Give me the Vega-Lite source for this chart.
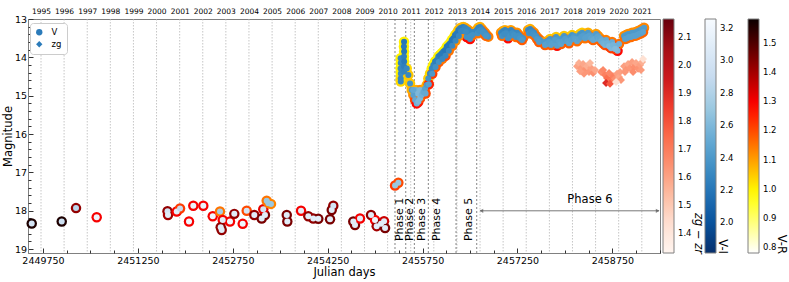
{
  "$schema": "https://vega.github.io/schema/vega-lite/v6.json",
  "width": 632,
  "height": 234,
  "autosize": {"type": "none"},
  "padding": {"left": 28, "top": 19, "right": 129, "bottom": 29},
  "config": {
    "font": "DejaVu Sans",
    "view": {"stroke": "#808080", "strokeWidth": 1},
    "axis": {"grid": false, "domainColor": "#808080", "tickColor": "#333333", "labelColor": "#000000", "titleColor": "#000000", "labelFont": "DejaVu Sans", "titleFont": "DejaVu Sans", "titleFontWeight": "normal"},
    "legend": {"labelFont": "DejaVu Sans", "titleFont": "DejaVu Sans", "labelColor": "#000000", "titleColor": "#000000"}
  },
  "datasets": {
    "years": [
      {"jd": 2449718.5, "year": 1995}, {"jd": 2450083.5, "year": 1996}, {"jd": 2450449.5, "year": 1997}, {"jd": 2450814.5, "year": 1998},
      {"jd": 2451179.5, "year": 1999}, {"jd": 2451544.5, "year": 2000}, {"jd": 2451910.5, "year": 2001}, {"jd": 2452275.5, "year": 2002},
      {"jd": 2452640.5, "year": 2003}, {"jd": 2453005.5, "year": 2004}, {"jd": 2453371.5, "year": 2005}, {"jd": 2453736.5, "year": 2006},
      {"jd": 2454101.5, "year": 2007}, {"jd": 2454466.5, "year": 2008}, {"jd": 2454832.5, "year": 2009}, {"jd": 2455197.5, "year": 2010},
      {"jd": 2455562.5, "year": 2011}, {"jd": 2455927.5, "year": 2012}, {"jd": 2456293.5, "year": 2013}, {"jd": 2456658.5, "year": 2014},
      {"jd": 2457023.5, "year": 2015}, {"jd": 2457388.5, "year": 2016}, {"jd": 2457754.5, "year": 2017}, {"jd": 2458119.5, "year": 2018},
      {"jd": 2458484.5, "year": 2019}, {"jd": 2458849.5, "year": 2020}, {"jd": 2459215.5, "year": 2021}
    ],
    "phaselines": [
      {"jd": 2455314}, {"jd": 2455484}, {"jd": 2455620}, {"jd": 2455841}, {"jd": 2456279}, {"jd": 2456606}
    ],
    "phaselabels": [
      {"jd": 2455394, "mag": 18.79, "label": "Phase 1"},
      {"jd": 2455552, "mag": 18.79, "label": "Phase 2"},
      {"jd": 2455737, "mag": 18.79, "label": "Phase 3"},
      {"jd": 2455978, "mag": 18.79, "label": "Phase 4"},
      {"jd": 2456484, "mag": 18.79, "label": "Phase 5"}
    ],
    "phase6": [{"jd": 2458397, "mag": 17.71, "label": "Phase 6"}],
    "arrow": [{"jd": 2456660, "jd2": 2459486, "mag": 18.0}],
    "arrowL": [{"jd": 2456680, "mag": 18.0}],
    "arrowR": [{"jd": 2459466, "mag": 18.0}],
    "V": [
      {"jd": 2449572, "mag": 18.33, "vi": 3.0, "vr": 1.56, "b": "V"},
      {"jd": 2450046, "mag": 18.28, "vi": 2.95, "vr": 1.56, "b": "V"},
      {"jd": 2450272, "mag": 17.93, "vi": 2.85, "vr": 1.42, "b": "V"},
      {"jd": 2450599, "mag": 18.17, "vi": 3.2, "vr": 1.3, "b": "V"},
      {"jd": 2451718, "mag": 18.01, "vi": 3.0, "vr": 1.42, "b": "V"},
      {"jd": 2451726, "mag": 18.11, "vi": 3.1, "vr": 1.4, "b": "V"},
      {"jd": 2451864, "mag": 18.02, "vi": 3.1, "vr": 1.3, "b": "V"},
      {"jd": 2451916, "mag": 17.94, "vi": 2.9, "vr": 1.22, "b": "V"},
      {"jd": 2452058, "mag": 18.28, "vi": 3.2, "vr": 1.3, "b": "V"},
      {"jd": 2452126, "mag": 17.87, "vi": 3.15, "vr": 1.3, "b": "V"},
      {"jd": 2452284, "mag": 17.87, "vi": 3.15, "vr": 1.3, "b": "V"},
      {"jd": 2452433, "mag": 18.14, "vi": 3.2, "vr": 1.3, "b": "V"},
      {"jd": 2452548, "mag": 18.02, "vi": 2.75, "vr": 1.15, "b": "V"},
      {"jd": 2452591, "mag": 18.24, "vi": 3.1, "vr": 1.3, "b": "V"},
      {"jd": 2452559, "mag": 18.43, "vi": 3.1, "vr": 1.42, "b": "V"},
      {"jd": 2452575, "mag": 18.5, "vi": 3.1, "vr": 1.42, "b": "V"},
      {"jd": 2452706, "mag": 18.28, "vi": 3.2, "vr": 1.3, "b": "V"},
      {"jd": 2452774, "mag": 18.08, "vi": 3.1, "vr": 1.42, "b": "V"},
      {"jd": 2452907, "mag": 18.34, "vi": 3.2, "vr": 1.3, "b": "V"},
      {"jd": 2452970, "mag": 18.0, "vi": 3.0, "vr": 1.2, "b": "V"},
      {"jd": 2453090, "mag": 18.11, "vi": 3.1, "vr": 1.42, "b": "V"},
      {"jd": 2453207, "mag": 18.2, "vi": 3.1, "vr": 1.45, "b": "V"},
      {"jd": 2453259, "mag": 18.11, "vi": 3.1, "vr": 1.45, "b": "V"},
      {"jd": 2453232, "mag": 17.96, "vi": 3.0, "vr": 1.32, "b": "V"},
      {"jd": 2453286, "mag": 17.74, "vi": 2.7, "vr": 1.15, "b": "V"},
      {"jd": 2453312, "mag": 17.8, "vi": 2.7, "vr": 1.15, "b": "V"},
      {"jd": 2453354, "mag": 17.82, "vi": 2.7, "vr": 1.13, "b": "V"},
      {"jd": 2453603, "mag": 18.11, "vi": 3.1, "vr": 1.45, "b": "V"},
      {"jd": 2453612, "mag": 18.28, "vi": 3.1, "vr": 1.45, "b": "V"},
      {"jd": 2453829, "mag": 18.0, "vi": 3.1, "vr": 1.3, "b": "V"},
      {"jd": 2453944, "mag": 18.14, "vi": 3.1, "vr": 1.42, "b": "V"},
      {"jd": 2454023, "mag": 18.2, "vi": 3.1, "vr": 1.42, "b": "V"},
      {"jd": 2454102, "mag": 18.21, "vi": 3.1, "vr": 1.45, "b": "V"},
      {"jd": 2454287, "mag": 18.22, "vi": 3.1, "vr": 1.45, "b": "V"},
      {"jd": 2454314, "mag": 17.98, "vi": 3.1, "vr": 1.45, "b": "V"},
      {"jd": 2454339, "mag": 17.87, "vi": 3.0, "vr": 1.42, "b": "V"},
      {"jd": 2454655, "mag": 18.28, "vi": 3.1, "vr": 1.45, "b": "V"},
      {"jd": 2454682, "mag": 18.37, "vi": 3.1, "vr": 1.45, "b": "V"},
      {"jd": 2454761, "mag": 18.2, "vi": 3.1, "vr": 1.3, "b": "V"},
      {"jd": 2454935, "mag": 18.11, "vi": 3.1, "vr": 1.42, "b": "V"},
      {"jd": 2454998, "mag": 18.24, "vi": 3.2, "vr": 1.3, "b": "V"},
      {"jd": 2455025, "mag": 18.4, "vi": 3.1, "vr": 1.4, "b": "V"},
      {"jd": 2455093, "mag": 18.34, "vi": 3.1, "vr": 1.45, "b": "V"},
      {"jd": 2455141, "mag": 18.27, "vi": 3.1, "vr": 1.35, "b": "V"},
      {"jd": 2455157, "mag": 18.45, "vi": 3.1, "vr": 1.45, "b": "V"},
      {"jd": 2455315, "mag": 17.34, "vi": 2.7, "vr": 1.22, "b": "V"},
      {"jd": 2455367, "mag": 17.27, "vi": 2.7, "vr": 1.2, "b": "V"},
      {"jd": 2455403, "mag": 14.02, "vi": 2.3, "vr": 1.0, "b": "V"},
      {"jd": 2455405, "mag": 14.15, "vi": 2.28, "vr": 1.0, "b": "V"},
      {"jd": 2455402, "mag": 14.29, "vi": 2.3, "vr": 1.0, "b": "V"},
      {"jd": 2455406, "mag": 14.42, "vi": 2.32, "vr": 1.0, "b": "V"},
      {"jd": 2455404, "mag": 14.55, "vi": 2.3, "vr": 1.02, "b": "V"},
      {"jd": 2455405, "mag": 14.63, "vi": 2.3, "vr": 1.03, "b": "V"},
      {"jd": 2455425, "mag": 14.1, "vi": 2.3, "vr": 1.0, "b": "V"},
      {"jd": 2455428, "mag": 14.35, "vi": 2.3, "vr": 1.0, "b": "V"},
      {"jd": 2455457, "mag": 13.59, "vi": 2.2, "vr": 1.0, "b": "V"},
      {"jd": 2455455, "mag": 13.72, "vi": 2.22, "vr": 1.0, "b": "V"},
      {"jd": 2455458, "mag": 13.85, "vi": 2.2, "vr": 1.0, "b": "V"},
      {"jd": 2455456, "mag": 13.98, "vi": 2.25, "vr": 1.0, "b": "V"},
      {"jd": 2455459, "mag": 14.11, "vi": 2.22, "vr": 1.0, "b": "V"},
      {"jd": 2455457, "mag": 14.24, "vi": 2.25, "vr": 1.02, "b": "V"},
      {"jd": 2455458, "mag": 14.37, "vi": 2.28, "vr": 1.03, "b": "V"},
      {"jd": 2455500, "mag": 14.29, "vi": 2.3, "vr": 1.03, "b": "V"},
      {"jd": 2455525, "mag": 14.46, "vi": 2.3, "vr": 1.05, "b": "V"},
      {"jd": 2455552, "mag": 14.68, "vi": 2.35, "vr": 1.05, "b": "V"},
      {"jd": 2455579, "mag": 14.85, "vi": 2.4, "vr": 1.08, "b": "V"},
      {"jd": 2455604, "mag": 14.98, "vi": 2.45, "vr": 1.12, "b": "V"},
      {"jd": 2455631, "mag": 15.11, "vi": 2.5, "vr": 1.2, "b": "V"},
      {"jd": 2455658, "mag": 15.2, "vi": 2.55, "vr": 1.28, "b": "V"},
      {"jd": 2455683, "mag": 15.16, "vi": 2.6, "vr": 1.26, "b": "V"},
      {"jd": 2455710, "mag": 15.07, "vi": 2.6, "vr": 1.2, "b": "V"},
      {"jd": 2455646, "mag": 14.85, "vi": 2.55, "vr": 1.08, "b": "V"},
      {"jd": 2455710, "mag": 14.85, "vi": 2.6, "vr": 1.12, "b": "V"},
      {"jd": 2455600, "mag": 14.85, "vi": 2.5, "vr": 1.08, "b": "V"},
      {"jd": 2455680, "mag": 14.95, "vi": 2.6, "vr": 1.15, "b": "V"},
      {"jd": 2455737, "mag": 14.98, "vi": 2.55, "vr": 1.15, "b": "V"},
      {"jd": 2455762, "mag": 14.9, "vi": 2.5, "vr": 1.12, "b": "V"},
      {"jd": 2455789, "mag": 14.81, "vi": 2.45, "vr": 1.1, "b": "V"},
      {"jd": 2455816, "mag": 14.72, "vi": 2.4, "vr": 1.08, "b": "V"},
      {"jd": 2455841, "mag": 14.55, "vi": 2.35, "vr": 1.05, "b": "V"},
      {"jd": 2455868, "mag": 14.42, "vi": 2.3, "vr": 1.03, "b": "V"},
      {"jd": 2455895, "mag": 14.29, "vi": 2.3, "vr": 1.0, "b": "V"},
      {"jd": 2455920, "mag": 14.2, "vi": 2.28, "vr": 1.0, "b": "V"},
      {"jd": 2455947, "mag": 14.11, "vi": 2.25, "vr": 1.0, "b": "V"},
      {"jd": 2455974, "mag": 14.07, "vi": 2.25, "vr": 1.0, "b": "V"},
      {"jd": 2455999, "mag": 13.98, "vi": 2.25, "vr": 1.0, "b": "V"},
      {"jd": 2456026, "mag": 13.94, "vi": 2.22, "vr": 1.0, "b": "V"},
      {"jd": 2456053, "mag": 13.89, "vi": 2.22, "vr": 1.0, "b": "V"},
      {"jd": 2456078, "mag": 13.85, "vi": 2.22, "vr": 1.0, "b": "V"},
      {"jd": 2456105, "mag": 13.81, "vi": 2.2, "vr": 1.0, "b": "V"},
      {"jd": 2456132, "mag": 13.72, "vi": 2.2, "vr": 1.0, "b": "V"},
      {"jd": 2456157, "mag": 13.68, "vi": 2.2, "vr": 1.0, "b": "V"},
      {"jd": 2456184, "mag": 13.63, "vi": 2.2, "vr": 1.0, "b": "V"},
      {"jd": 2456211, "mag": 13.55, "vi": 2.2, "vr": 1.0, "b": "V"},
      {"jd": 2456236, "mag": 13.5, "vi": 2.2, "vr": 1.0, "b": "V"},
      {"jd": 2456263, "mag": 13.42, "vi": 2.2, "vr": 1.02, "b": "V"},
      {"jd": 2456290, "mag": 13.37, "vi": 2.22, "vr": 1.03, "b": "V"},
      {"jd": 2456315, "mag": 13.29, "vi": 2.22, "vr": 1.05, "b": "V"},
      {"jd": 2456342, "mag": 13.24, "vi": 2.25, "vr": 1.06, "b": "V"},
      {"jd": 2456369, "mag": 13.22, "vi": 2.25, "vr": 1.07, "b": "V"},
      {"jd": 2456394, "mag": 13.21, "vi": 2.25, "vr": 1.07, "b": "V"},
      {"jd": 2456421, "mag": 13.23, "vi": 2.28, "vr": 1.08, "b": "V"},
      {"jd": 2456448, "mag": 13.26, "vi": 2.28, "vr": 1.1, "b": "V"},
      {"jd": 2456473, "mag": 13.29, "vi": 2.3, "vr": 1.1, "b": "V"},
      {"jd": 2456500, "mag": 13.33, "vi": 2.3, "vr": 1.12, "b": "V"},
      {"jd": 2456527, "mag": 13.36, "vi": 2.3, "vr": 1.12, "b": "V"},
      {"jd": 2456552, "mag": 13.34, "vi": 2.3, "vr": 1.12, "b": "V"},
      {"jd": 2456448, "mag": 13.47, "vi": 2.35, "vr": 1.28, "b": "V"},
      {"jd": 2456500, "mag": 13.52, "vi": 2.35, "vr": 1.28, "b": "V"},
      {"jd": 2456358, "mag": 13.32, "vi": 2.3, "vr": 1.12, "b": "V"},
      {"jd": 2456385, "mag": 13.3, "vi": 2.3, "vr": 1.12, "b": "V"},
      {"jd": 2456410, "mag": 13.31, "vi": 2.3, "vr": 1.14, "b": "V"},
      {"jd": 2456437, "mag": 13.34, "vi": 2.32, "vr": 1.15, "b": "V"},
      {"jd": 2456516, "mag": 13.44, "vi": 2.35, "vr": 1.16, "b": "V"},
      {"jd": 2456541, "mag": 13.42, "vi": 2.35, "vr": 1.16, "b": "V"},
      {"jd": 2455797, "mag": 14.94, "vi": 2.5, "vr": 1.2, "b": "V"},
      {"jd": 2455849, "mag": 14.7, "vi": 2.45, "vr": 1.25, "b": "V"},
      {"jd": 2455903, "mag": 14.43, "vi": 2.4, "vr": 1.22, "b": "V"},
      {"jd": 2455955, "mag": 14.25, "vi": 2.35, "vr": 1.18, "b": "V"},
      {"jd": 2456007, "mag": 14.12, "vi": 2.35, "vr": 1.18, "b": "V"},
      {"jd": 2456061, "mag": 14.04, "vi": 2.3, "vr": 1.15, "b": "V"},
      {"jd": 2456113, "mag": 13.96, "vi": 2.3, "vr": 1.2, "b": "V"},
      {"jd": 2456165, "mag": 13.83, "vi": 2.3, "vr": 1.15, "b": "V"},
      {"jd": 2456219, "mag": 13.7, "vi": 2.3, "vr": 1.15, "b": "V"},
      {"jd": 2456271, "mag": 13.57, "vi": 2.3, "vr": 1.12, "b": "V"},
      {"jd": 2456323, "mag": 13.44, "vi": 2.3, "vr": 1.12, "b": "V"},
      {"jd": 2456605, "mag": 13.29, "vi": 2.3, "vr": 1.1, "b": "V"},
      {"jd": 2456631, "mag": 13.23, "vi": 2.28, "vr": 1.08, "b": "V"},
      {"jd": 2456658, "mag": 13.21, "vi": 2.28, "vr": 1.08, "b": "V"},
      {"jd": 2456685, "mag": 13.26, "vi": 2.3, "vr": 1.1, "b": "V"},
      {"jd": 2456710, "mag": 13.31, "vi": 2.3, "vr": 1.12, "b": "V"},
      {"jd": 2456737, "mag": 13.36, "vi": 2.32, "vr": 1.12, "b": "V"},
      {"jd": 2456764, "mag": 13.42, "vi": 2.35, "vr": 1.13, "b": "V"},
      {"jd": 2456789, "mag": 13.46, "vi": 2.35, "vr": 1.14, "b": "V"},
      {"jd": 2456621, "mag": 13.37, "vi": 2.35, "vr": 1.15, "b": "V"},
      {"jd": 2456647, "mag": 13.31, "vi": 2.33, "vr": 1.15, "b": "V"},
      {"jd": 2456674, "mag": 13.29, "vi": 2.33, "vr": 1.15, "b": "V"},
      {"jd": 2456701, "mag": 13.34, "vi": 2.35, "vr": 1.16, "b": "V"},
      {"jd": 2456726, "mag": 13.39, "vi": 2.35, "vr": 1.16, "b": "V"},
      {"jd": 2456753, "mag": 13.44, "vi": 2.38, "vr": 1.17, "b": "V"},
      {"jd": 2456990, "mag": 13.36, "vi": 2.3, "vr": 1.12, "b": "V"},
      {"jd": 2457022, "mag": 13.31, "vi": 2.28, "vr": 1.1, "b": "V"},
      {"jd": 2457053, "mag": 13.29, "vi": 2.28, "vr": 1.08, "b": "V"},
      {"jd": 2457085, "mag": 13.31, "vi": 2.3, "vr": 1.1, "b": "V"},
      {"jd": 2457101, "mag": 13.5, "vi": 2.35, "vr": 1.28, "b": "V"},
      {"jd": 2457117, "mag": 13.36, "vi": 2.3, "vr": 1.12, "b": "V"},
      {"jd": 2457148, "mag": 13.29, "vi": 2.28, "vr": 1.1, "b": "V"},
      {"jd": 2457180, "mag": 13.34, "vi": 2.3, "vr": 1.12, "b": "V"},
      {"jd": 2457212, "mag": 13.39, "vi": 2.3, "vr": 1.12, "b": "V"},
      {"jd": 2457243, "mag": 13.36, "vi": 2.3, "vr": 1.12, "b": "V"},
      {"jd": 2457275, "mag": 13.42, "vi": 2.32, "vr": 1.14, "b": "V"},
      {"jd": 2457306, "mag": 13.47, "vi": 2.35, "vr": 1.15, "b": "V"},
      {"jd": 2457338, "mag": 13.5, "vi": 2.35, "vr": 1.15, "b": "V"},
      {"jd": 2457006, "mag": 13.44, "vi": 2.35, "vr": 1.16, "b": "V"},
      {"jd": 2457038, "mag": 13.39, "vi": 2.33, "vr": 1.15, "b": "V"},
      {"jd": 2457069, "mag": 13.37, "vi": 2.33, "vr": 1.15, "b": "V"},
      {"jd": 2457133, "mag": 13.44, "vi": 2.35, "vr": 1.16, "b": "V"},
      {"jd": 2457164, "mag": 13.37, "vi": 2.33, "vr": 1.15, "b": "V"},
      {"jd": 2457196, "mag": 13.42, "vi": 2.35, "vr": 1.16, "b": "V"},
      {"jd": 2457228, "mag": 13.47, "vi": 2.35, "vr": 1.16, "b": "V"},
      {"jd": 2457259, "mag": 13.44, "vi": 2.35, "vr": 1.16, "b": "V"},
      {"jd": 2457291, "mag": 13.5, "vi": 2.37, "vr": 1.17, "b": "V"},
      {"jd": 2457322, "mag": 13.55, "vi": 2.4, "vr": 1.18, "b": "V"},
      {"jd": 2457417, "mag": 13.29, "vi": 2.3, "vr": 1.1, "b": "V"},
      {"jd": 2457449, "mag": 13.26, "vi": 2.28, "vr": 1.08, "b": "V"},
      {"jd": 2457480, "mag": 13.31, "vi": 2.3, "vr": 1.1, "b": "V"},
      {"jd": 2457512, "mag": 13.36, "vi": 2.32, "vr": 1.12, "b": "V"},
      {"jd": 2457544, "mag": 13.44, "vi": 2.35, "vr": 1.14, "b": "V"},
      {"jd": 2457575, "mag": 13.5, "vi": 2.35, "vr": 1.15, "b": "V"},
      {"jd": 2457607, "mag": 13.55, "vi": 2.38, "vr": 1.16, "b": "V"},
      {"jd": 2457433, "mag": 13.37, "vi": 2.35, "vr": 1.15, "b": "V"},
      {"jd": 2457465, "mag": 13.34, "vi": 2.33, "vr": 1.15, "b": "V"},
      {"jd": 2457496, "mag": 13.39, "vi": 2.35, "vr": 1.16, "b": "V"},
      {"jd": 2457528, "mag": 13.44, "vi": 2.37, "vr": 1.16, "b": "V"},
      {"jd": 2457560, "mag": 13.52, "vi": 2.4, "vr": 1.17, "b": "V"},
      {"jd": 2457591, "mag": 13.6, "vi": 2.42, "vr": 1.18, "b": "V"},
      {"jd": 2457670, "mag": 13.6, "vi": 2.4, "vr": 1.12, "b": "V"},
      {"jd": 2457702, "mag": 13.65, "vi": 2.42, "vr": 1.16, "b": "V"},
      {"jd": 2457733, "mag": 13.57, "vi": 2.4, "vr": 1.1, "b": "V"},
      {"jd": 2457765, "mag": 13.52, "vi": 2.38, "vr": 1.06, "b": "V"},
      {"jd": 2457796, "mag": 13.6, "vi": 2.42, "vr": 1.14, "b": "V"},
      {"jd": 2457828, "mag": 13.55, "vi": 2.4, "vr": 1.08, "b": "V"},
      {"jd": 2457860, "mag": 13.47, "vi": 2.38, "vr": 1.05, "b": "V"},
      {"jd": 2457876, "mag": 13.7, "vi": 2.45, "vr": 1.28, "b": "V"},
      {"jd": 2457891, "mag": 13.52, "vi": 2.4, "vr": 1.08, "b": "V"},
      {"jd": 2457923, "mag": 13.57, "vi": 2.42, "vr": 1.12, "b": "V"},
      {"jd": 2457955, "mag": 13.5, "vi": 2.4, "vr": 1.06, "b": "V"},
      {"jd": 2457986, "mag": 13.44, "vi": 2.38, "vr": 1.05, "b": "V"},
      {"jd": 2458018, "mag": 13.5, "vi": 2.4, "vr": 1.08, "b": "V"},
      {"jd": 2458049, "mag": 13.55, "vi": 2.42, "vr": 1.12, "b": "V"},
      {"jd": 2458081, "mag": 13.47, "vi": 2.4, "vr": 1.06, "b": "V"},
      {"jd": 2458113, "mag": 13.42, "vi": 2.38, "vr": 1.05, "b": "V"},
      {"jd": 2458144, "mag": 13.44, "vi": 2.4, "vr": 1.06, "b": "V"},
      {"jd": 2458176, "mag": 13.5, "vi": 2.42, "vr": 1.1, "b": "V"},
      {"jd": 2458207, "mag": 13.44, "vi": 2.4, "vr": 1.06, "b": "V"},
      {"jd": 2458239, "mag": 13.39, "vi": 2.38, "vr": 1.05, "b": "V"},
      {"jd": 2458271, "mag": 13.36, "vi": 2.38, "vr": 1.05, "b": "V"},
      {"jd": 2458302, "mag": 13.42, "vi": 2.4, "vr": 1.08, "b": "V"},
      {"jd": 2458334, "mag": 13.39, "vi": 2.4, "vr": 1.08, "b": "V"},
      {"jd": 2458366, "mag": 13.36, "vi": 2.4, "vr": 1.08, "b": "V"},
      {"jd": 2458397, "mag": 13.42, "vi": 2.42, "vr": 1.1, "b": "V"},
      {"jd": 2458429, "mag": 13.47, "vi": 2.45, "vr": 1.12, "b": "V"},
      {"jd": 2458460, "mag": 13.44, "vi": 2.45, "vr": 1.12, "b": "V"},
      {"jd": 2458492, "mag": 13.39, "vi": 2.42, "vr": 1.1, "b": "V"},
      {"jd": 2458524, "mag": 13.44, "vi": 2.45, "vr": 1.12, "b": "V"},
      {"jd": 2457686, "mag": 13.68, "vi": 2.45, "vr": 1.18, "b": "V"},
      {"jd": 2457717, "mag": 13.65, "vi": 2.45, "vr": 1.17, "b": "V"},
      {"jd": 2457749, "mag": 13.6, "vi": 2.43, "vr": 1.16, "b": "V"},
      {"jd": 2457780, "mag": 13.68, "vi": 2.45, "vr": 1.18, "b": "V"},
      {"jd": 2457812, "mag": 13.63, "vi": 2.45, "vr": 1.17, "b": "V"},
      {"jd": 2457844, "mag": 13.55, "vi": 2.43, "vr": 1.15, "b": "V"},
      {"jd": 2457907, "mag": 13.6, "vi": 2.45, "vr": 1.16, "b": "V"},
      {"jd": 2457939, "mag": 13.65, "vi": 2.47, "vr": 1.18, "b": "V"},
      {"jd": 2457971, "mag": 13.58, "vi": 2.45, "vr": 1.16, "b": "V"},
      {"jd": 2458002, "mag": 13.52, "vi": 2.43, "vr": 1.15, "b": "V"},
      {"jd": 2458034, "mag": 13.58, "vi": 2.45, "vr": 1.16, "b": "V"},
      {"jd": 2458065, "mag": 13.63, "vi": 2.47, "vr": 1.18, "b": "V"},
      {"jd": 2458097, "mag": 13.55, "vi": 2.45, "vr": 1.16, "b": "V"},
      {"jd": 2458129, "mag": 13.5, "vi": 2.43, "vr": 1.15, "b": "V"},
      {"jd": 2458160, "mag": 13.52, "vi": 2.45, "vr": 1.15, "b": "V"},
      {"jd": 2458192, "mag": 13.58, "vi": 2.47, "vr": 1.16, "b": "V"},
      {"jd": 2458223, "mag": 13.52, "vi": 2.45, "vr": 1.15, "b": "V"},
      {"jd": 2458255, "mag": 13.47, "vi": 2.43, "vr": 1.14, "b": "V"},
      {"jd": 2458287, "mag": 13.44, "vi": 2.43, "vr": 1.14, "b": "V"},
      {"jd": 2458318, "mag": 13.5, "vi": 2.45, "vr": 1.15, "b": "V"},
      {"jd": 2458350, "mag": 13.47, "vi": 2.45, "vr": 1.15, "b": "V"},
      {"jd": 2458382, "mag": 13.44, "vi": 2.45, "vr": 1.15, "b": "V"},
      {"jd": 2458413, "mag": 13.5, "vi": 2.47, "vr": 1.16, "b": "V"},
      {"jd": 2458445, "mag": 13.55, "vi": 2.5, "vr": 1.17, "b": "V"},
      {"jd": 2458476, "mag": 13.52, "vi": 2.5, "vr": 1.17, "b": "V"},
      {"jd": 2458508, "mag": 13.47, "vi": 2.47, "vr": 1.16, "b": "V"},
      {"jd": 2458540, "mag": 13.52, "vi": 2.5, "vr": 1.17, "b": "V"},
      {"jd": 2458555, "mag": 13.5, "vi": 2.48, "vr": 1.12, "b": "V"},
      {"jd": 2458587, "mag": 13.55, "vi": 2.5, "vr": 1.14, "b": "V"},
      {"jd": 2458618, "mag": 13.6, "vi": 2.52, "vr": 1.15, "b": "V"},
      {"jd": 2458650, "mag": 13.55, "vi": 2.5, "vr": 1.14, "b": "V"},
      {"jd": 2458682, "mag": 13.63, "vi": 2.55, "vr": 1.16, "b": "V"},
      {"jd": 2458713, "mag": 13.68, "vi": 2.55, "vr": 1.16, "b": "V"},
      {"jd": 2458745, "mag": 13.6, "vi": 2.52, "vr": 1.15, "b": "V"},
      {"jd": 2458777, "mag": 13.7, "vi": 2.58, "vr": 1.18, "b": "V"},
      {"jd": 2458808, "mag": 13.76, "vi": 2.6, "vr": 1.2, "b": "V"},
      {"jd": 2458832, "mag": 13.83, "vi": 2.6, "vr": 1.28, "b": "V"},
      {"jd": 2458855, "mag": 13.65, "vi": 2.55, "vr": 1.16, "b": "V"},
      {"jd": 2458571, "mag": 13.58, "vi": 2.52, "vr": 1.17, "b": "V"},
      {"jd": 2458603, "mag": 13.63, "vi": 2.55, "vr": 1.18, "b": "V"},
      {"jd": 2458634, "mag": 13.68, "vi": 2.57, "vr": 1.19, "b": "V"},
      {"jd": 2458666, "mag": 13.63, "vi": 2.55, "vr": 1.18, "b": "V"},
      {"jd": 2458698, "mag": 13.71, "vi": 2.6, "vr": 1.2, "b": "V"},
      {"jd": 2458729, "mag": 13.76, "vi": 2.6, "vr": 1.22, "b": "V"},
      {"jd": 2458761, "mag": 13.68, "vi": 2.57, "vr": 1.19, "b": "V"},
      {"jd": 2458793, "mag": 13.78, "vi": 2.62, "vr": 1.22, "b": "V"},
      {"jd": 2458935, "mag": 13.44, "vi": 2.4, "vr": 1.12, "b": "V"},
      {"jd": 2458966, "mag": 13.42, "vi": 2.4, "vr": 1.12, "b": "V"},
      {"jd": 2458998, "mag": 13.39, "vi": 2.4, "vr": 1.12, "b": "V"},
      {"jd": 2459029, "mag": 13.39, "vi": 2.4, "vr": 1.12, "b": "V"},
      {"jd": 2459061, "mag": 13.36, "vi": 2.4, "vr": 1.12, "b": "V"},
      {"jd": 2459093, "mag": 13.36, "vi": 2.4, "vr": 1.12, "b": "V"},
      {"jd": 2459124, "mag": 13.34, "vi": 2.4, "vr": 1.12, "b": "V"},
      {"jd": 2459156, "mag": 13.31, "vi": 2.4, "vr": 1.12, "b": "V"},
      {"jd": 2459188, "mag": 13.29, "vi": 2.4, "vr": 1.12, "b": "V"},
      {"jd": 2459219, "mag": 13.26, "vi": 2.42, "vr": 1.13, "b": "V"},
      {"jd": 2459251, "mag": 13.23, "vi": 2.42, "vr": 1.13, "b": "V"},
      {"jd": 2458951, "mag": 13.52, "vi": 2.45, "vr": 1.16, "b": "V"},
      {"jd": 2458982, "mag": 13.5, "vi": 2.45, "vr": 1.16, "b": "V"},
      {"jd": 2459014, "mag": 13.47, "vi": 2.45, "vr": 1.16, "b": "V"},
      {"jd": 2459045, "mag": 13.47, "vi": 2.45, "vr": 1.16, "b": "V"},
      {"jd": 2459077, "mag": 13.44, "vi": 2.45, "vr": 1.16, "b": "V"},
      {"jd": 2459109, "mag": 13.44, "vi": 2.45, "vr": 1.16, "b": "V"},
      {"jd": 2459140, "mag": 13.42, "vi": 2.45, "vr": 1.16, "b": "V"},
      {"jd": 2459172, "mag": 13.39, "vi": 2.45, "vr": 1.16, "b": "V"},
      {"jd": 2459204, "mag": 13.37, "vi": 2.45, "vr": 1.16, "b": "V"},
      {"jd": 2459235, "mag": 13.34, "vi": 2.47, "vr": 1.17, "b": "V"}
    ],
    "zg": [
      {"jd": 2458192, "mag": 14.23, "zz": 1.6, "b": "zg"},
      {"jd": 2458223, "mag": 14.15, "zz": 1.57, "b": "zg"},
      {"jd": 2458255, "mag": 14.28, "zz": 1.62, "b": "zg"},
      {"jd": 2458287, "mag": 14.17, "zz": 1.59, "b": "zg"},
      {"jd": 2458318, "mag": 14.33, "zz": 1.64, "b": "zg"},
      {"jd": 2458350, "mag": 14.23, "zz": 1.57, "b": "zg"},
      {"jd": 2458381, "mag": 14.38, "zz": 1.63, "b": "zg"},
      {"jd": 2458413, "mag": 14.28, "zz": 1.61, "b": "zg"},
      {"jd": 2458445, "mag": 14.41, "zz": 1.65, "b": "zg"},
      {"jd": 2458476, "mag": 14.33, "zz": 1.59, "b": "zg"},
      {"jd": 2458302, "mag": 14.43, "zz": 1.63, "b": "zg"},
      {"jd": 2458397, "mag": 14.15, "zz": 1.55, "b": "zg"},
      {"jd": 2458239, "mag": 14.36, "zz": 1.61, "b": "zg"},
      {"jd": 2458571, "mag": 14.38, "zz": 1.65, "b": "zg"},
      {"jd": 2458603, "mag": 14.33, "zz": 1.67, "b": "zg"},
      {"jd": 2458634, "mag": 14.46, "zz": 1.69, "b": "zg"},
      {"jd": 2458666, "mag": 14.54, "zz": 1.73, "b": "zg"},
      {"jd": 2458698, "mag": 14.41, "zz": 1.67, "b": "zg"},
      {"jd": 2458729, "mag": 14.59, "zz": 1.71, "b": "zg"},
      {"jd": 2458761, "mag": 14.49, "zz": 1.69, "b": "zg"},
      {"jd": 2458792, "mag": 14.56, "zz": 1.65, "b": "zg"},
      {"jd": 2458824, "mag": 14.43, "zz": 1.61, "b": "zg"},
      {"jd": 2458856, "mag": 14.51, "zz": 1.59, "b": "zg"},
      {"jd": 2458887, "mag": 14.59, "zz": 1.63, "b": "zg"},
      {"jd": 2458650, "mag": 14.67, "zz": 1.9, "b": "zg"},
      {"jd": 2458713, "mag": 14.69, "zz": 1.79, "b": "zg"},
      {"jd": 2458808, "mag": 14.64, "zz": 1.43, "b": "zg"},
      {"jd": 2458871, "mag": 14.38, "zz": 1.61, "b": "zg"},
      {"jd": 2458935, "mag": 14.23, "zz": 1.61, "b": "zg"},
      {"jd": 2458966, "mag": 14.33, "zz": 1.64, "b": "zg"},
      {"jd": 2458998, "mag": 14.17, "zz": 1.59, "b": "zg"},
      {"jd": 2459029, "mag": 14.28, "zz": 1.63, "b": "zg"},
      {"jd": 2459061, "mag": 14.12, "zz": 1.61, "b": "zg"},
      {"jd": 2459093, "mag": 14.25, "zz": 1.65, "b": "zg"},
      {"jd": 2459124, "mag": 14.15, "zz": 1.59, "b": "zg"},
      {"jd": 2459156, "mag": 14.3, "zz": 1.64, "b": "zg"},
      {"jd": 2459188, "mag": 14.2, "zz": 1.61, "b": "zg"},
      {"jd": 2459219, "mag": 14.12, "zz": 1.57, "b": "zg"},
      {"jd": 2459235, "mag": 14.04, "zz": 1.43, "b": "zg"},
      {"jd": 2458950, "mag": 14.38, "zz": 1.63, "b": "zg"},
      {"jd": 2459077, "mag": 14.38, "zz": 1.66, "b": "zg"},
      {"jd": 2459203, "mag": 14.33, "zz": 1.62, "b": "zg"}
    ]
  },
  "layer": [
    {
      "data": {"name": "years"},
      "mark": {"type": "rule", "color": "#b8b8b8", "strokeDash": [1.5, 1.5], "strokeWidth": 0.8},
      "encoding": {
        "x": {"field": "jd", "type": "quantitative",
          "scale": {"domain": [2449513, 2459503], "nice": false, "zero": false},
          "axis": {"orient": "top", "title": null, "ticks": false, "domain": false, "grid": false,
            "values": [2449718.5, 2450083.5, 2450449.5, 2450814.5, 2451179.5, 2451544.5, 2451910.5, 2452275.5, 2452640.5, 2453005.5, 2453371.5, 2453736.5, 2454101.5, 2454466.5, 2454832.5, 2455197.5, 2455562.5, 2455927.5, 2456293.5, 2456658.5, 2457023.5, 2457388.5, 2457754.5, 2458119.5, 2458484.5, 2458849.5, 2459215.5],
            "labelExpr": "format(1995 + round((datum.value - 2449718.5) / 365.25), 'd')",
            "labelFontSize": 7.5, "labelPadding": 4, "labelOverlap": false, "labelFlush": false}}
      }
    },
    {
      "data": {"name": "phaselines"},
      "mark": {"type": "rule", "color": "#666666", "strokeDash": [2, 2], "strokeWidth": 0.8},
      "encoding": {"x": {"field": "jd", "type": "quantitative", "axis": null}}
    },
    {
      "data": {"name": "V"},
      "mark": {"type": "point", "shape": "circle", "filled": true, "size": 110, "strokeWidth": 0, "opacity": 1},
      "encoding": {
        "x": {"field": "jd", "type": "quantitative",
          "axis": {"orient": "bottom", "title": "Julian days", "values": [2449750, 2451250, 2452750, 2454250, 2455750, 2457250, 2458750], "format": "d",
            "tickSize": -5, "labelPadding": 7, "labelFontSize": 9.5, "titleFontSize": 11.5, "titlePadding": 2, "labelOverlap": false, "labelFlush": false, "domainColor": "#808080"}},
        "y": {"field": "mag", "type": "quantitative",
          "scale": {"domain": [13, 19.1], "reverse": true, "nice": false, "zero": false},
          "axis": {"orient": "left", "title": "Magnitude", "values": [13, 14, 15, 16, 17, 18, 19], "format": "d",
            "tickSize": -5, "labelPadding": 6.5, "labelFontSize": 9.5, "titleFontSize": 11.5, "titlePadding": 1, "labelOverlap": false, "labelFlush": false}},
        "fill": {"field": "vr", "type": "quantitative",
          "scale": {"domain": [0.78, 0.984, 1.289, 1.582], "range": ["#ffffff", "#ffff00", "#ff0000", "#0b0000"], "interpolate": "rgb", "nice": false, "zero": false},
          "legend": {"type": "gradient", "direction": "vertical", "orient": "none", "legendX": 720, "legendY": 0, "padding": 0,
            "gradientLength": 234, "gradientThickness": 11, "gradientStrokeColor": "#808080", "gradientStrokeWidth": 1,
            "values": [0.8, 0.9, 1.0, 1.1, 1.2, 1.3, 1.4, 1.5], "format": ".1f", "labelFontSize": 8.5, "labelOffset": 4, "labelOverlap": false, "labelFlush": false,
            "title": "V-R", "titleOrient": "right", "titleAnchor": "start", "titleFontSize": 11.5, "titleFontWeight": "normal", "titlePadding": -1,
            "encode": {"title": {"angle": {"value": 270}, "align": {"value": "left"}, "baseline": {"value": "top"}}}}}
      }
    },
    {
      "data": {"name": "V"},
      "mark": {"type": "point", "filled": true, "size": 36, "strokeWidth": 0, "opacity": 1},
      "encoding": {
        "x": {"field": "jd", "type": "quantitative",
          "axis": {"orient": "bottom", "title": null, "labels": false, "domain": false, "tickSize": -3,
            "values": [2450125, 2450500, 2450875, 2451625, 2452000, 2452375, 2453125, 2453500, 2453875, 2454625, 2455000, 2455375, 2456125, 2456500, 2456875, 2457625, 2458000, 2458375, 2459125, 2459500]}},
        "y": {"field": "mag", "type": "quantitative",
          "axis": {"orient": "left", "title": null, "labels": false, "domain": false, "tickSize": -3,
            "values": [13.2, 13.4, 13.6, 13.8, 14.2, 14.4, 14.6, 14.8, 15.2, 15.4, 15.6, 15.8, 16.2, 16.4, 16.6, 16.8, 17.2, 17.4, 17.6, 17.8, 18.2, 18.4, 18.6, 18.8]}},
        "fill": {"field": "vi", "type": "quantitative",
          "scale": {"domain": [1.81, 1.99075, 2.1715, 2.35225, 2.533, 2.71375, 2.8945, 3.07525, 3.256], "range": ["#08306b", "#08519c", "#2171b5", "#4292c6", "#6baed6", "#9ecae1", "#c6dbef", "#deebf7", "#f7fbff"], "interpolate": "rgb", "nice": false, "zero": false},
          "legend": {"type": "gradient", "direction": "vertical", "orient": "none", "legendX": 677, "legendY": 0, "padding": 0,
            "gradientLength": 234, "gradientThickness": 11, "gradientStrokeColor": "#808080", "gradientStrokeWidth": 1,
            "values": [2.0, 2.2, 2.4, 2.6, 2.8, 3.0, 3.2], "format": ".1f", "labelFontSize": 8.5, "labelOffset": 4, "labelOverlap": false, "labelFlush": false,
            "title": "V-I", "titleOrient": "right", "titleAnchor": "start", "titleFontSize": 11.5, "titleFontWeight": "normal", "titlePadding": -17,
            "encode": {"title": {"angle": {"value": 270}, "align": {"value": "left"}, "baseline": {"value": "top"}}}}},
        "shape": {"field": "b", "type": "nominal",
          "scale": {"domain": ["V", "zg"], "range": ["circle", "diamond"]},
          "legend": {"orient": "none", "legendX": 2, "legendY": 4, "title": null, "padding": 5, "strokeColor": "#cccccc", "fillColor": "#ffffff", "cornerRadius": 3,
            "labelFontSize": 8.5, "labelOffset": 8, "rowPadding": 3, "symbolFillColor": "#2b7bba", "symbolStrokeWidth": 0, "symbolSize": 40,
            "encode": {
              "symbols": {"size": {"value": {"expr": "datum.value === 'V' ? 18 : 60"}}, "fill": {"value": "#2b7bba"}, "stroke": {"value": "transparent"}, "opacity": {"value": 1}},
              "labels": {"fontStyle": {"value": {"expr": "datum.value === 'zg' ? 'italic' : 'normal'"}}}
            }}}
      }
    },
    {
      "data": {"name": "zg"},
      "mark": {"type": "point", "filled": true, "size": 64, "strokeWidth": 0, "opacity": 1},
      "encoding": {
        "x": {"field": "jd", "type": "quantitative", "axis": null},
        "y": {"field": "mag", "type": "quantitative", "axis": null},
        "shape": {"field": "b", "type": "nominal",
          "legend": {"orient": "none", "legendX": 2, "legendY": 4, "title": null, "padding": 5, "strokeColor": "#cccccc", "fillColor": "#ffffff", "cornerRadius": 3,
            "labelFontSize": 8.5, "labelOffset": 8, "rowPadding": 3, "symbolFillColor": "#2b7bba", "symbolStrokeWidth": 0, "symbolSize": 40,
            "encode": {
              "symbols": {"size": {"value": {"expr": "datum.value === 'V' ? 18 : 60"}}, "fill": {"value": "#2b7bba"}, "stroke": {"value": "transparent"}, "opacity": {"value": 1}},
              "labels": {"fontStyle": {"value": {"expr": "datum.value === 'zg' ? 'italic' : 'normal'"}}}
            }}},
        "fill": {"field": "zz", "type": "quantitative",
          "scale": {"domain": [1.33, 1.434375, 1.53875, 1.643125, 1.7475, 1.851875, 1.95625, 2.060625, 2.165], "range": ["#fff5f0", "#fee0d2", "#fcbba1", "#fc9272", "#fb6a4a", "#ef3b2c", "#cb181d", "#a50f15", "#67000d"], "interpolate": "rgb", "nice": false, "zero": false},
          "legend": {"type": "gradient", "direction": "vertical", "orient": "none", "legendX": 635, "legendY": 0, "padding": 0,
            "gradientLength": 234, "gradientThickness": 11, "gradientStrokeColor": "#808080", "gradientStrokeWidth": 1,
            "values": [1.4, 1.5, 1.6, 1.7, 1.8, 1.9, 2.0, 2.1], "format": ".1f", "labelFontSize": 8.5, "labelOffset": 4, "labelOverlap": false, "labelFlush": false,
            "title": "zg − zr", "titleOrient": "right", "titleAnchor": "start", "titleFontSize": 11.5, "titleFontStyle": "italic", "titleFontWeight": "normal", "titlePadding": 1,
            "encode": {"title": {"angle": {"value": 270}, "align": {"value": "left"}, "baseline": {"value": "top"}}}}}
      }
    },
    {
      "data": {"name": "phaselabels"},
      "mark": {"type": "text", "angle": 270, "align": "left", "baseline": "middle", "fontSize": 11, "color": "#000000"},
      "encoding": {
        "x": {"field": "jd", "type": "quantitative", "axis": null},
        "y": {"field": "mag", "type": "quantitative", "axis": null},
        "text": {"field": "label"}
      }
    },
    {
      "data": {"name": "phase6"},
      "mark": {"type": "text", "align": "center", "baseline": "middle", "fontSize": 11.5, "color": "#000000"},
      "encoding": {
        "x": {"field": "jd", "type": "quantitative", "axis": null},
        "y": {"field": "mag", "type": "quantitative", "axis": null},
        "text": {"field": "label"}
      }
    },
    {
      "data": {"name": "arrow"},
      "mark": {"type": "rule", "color": "#555555", "strokeWidth": 0.8},
      "encoding": {
        "x": {"field": "jd", "type": "quantitative", "axis": null},
        "x2": {"field": "jd2"},
        "y": {"field": "mag", "type": "quantitative", "axis": null}
      }
    },
    {
      "data": {"name": "arrowL"},
      "mark": {"type": "point", "shape": "triangle-left", "filled": true, "size": 18, "color": "#555555", "strokeWidth": 0},
      "encoding": {
        "x": {"field": "jd", "type": "quantitative", "axis": null},
        "y": {"field": "mag", "type": "quantitative", "axis": null}
      }
    },
    {
      "data": {"name": "arrowR"},
      "mark": {"type": "point", "shape": "triangle-right", "filled": true, "size": 18, "color": "#555555", "strokeWidth": 0},
      "encoding": {
        "x": {"field": "jd", "type": "quantitative", "axis": null},
        "y": {"field": "mag", "type": "quantitative", "axis": null}
      }
    }
  ],
  "resolve": {
    "scale": {"fill": "independent"},
    "axis": {"x": "independent", "y": "independent"},
    "legend": {"fill": "independent"}
  }
}
